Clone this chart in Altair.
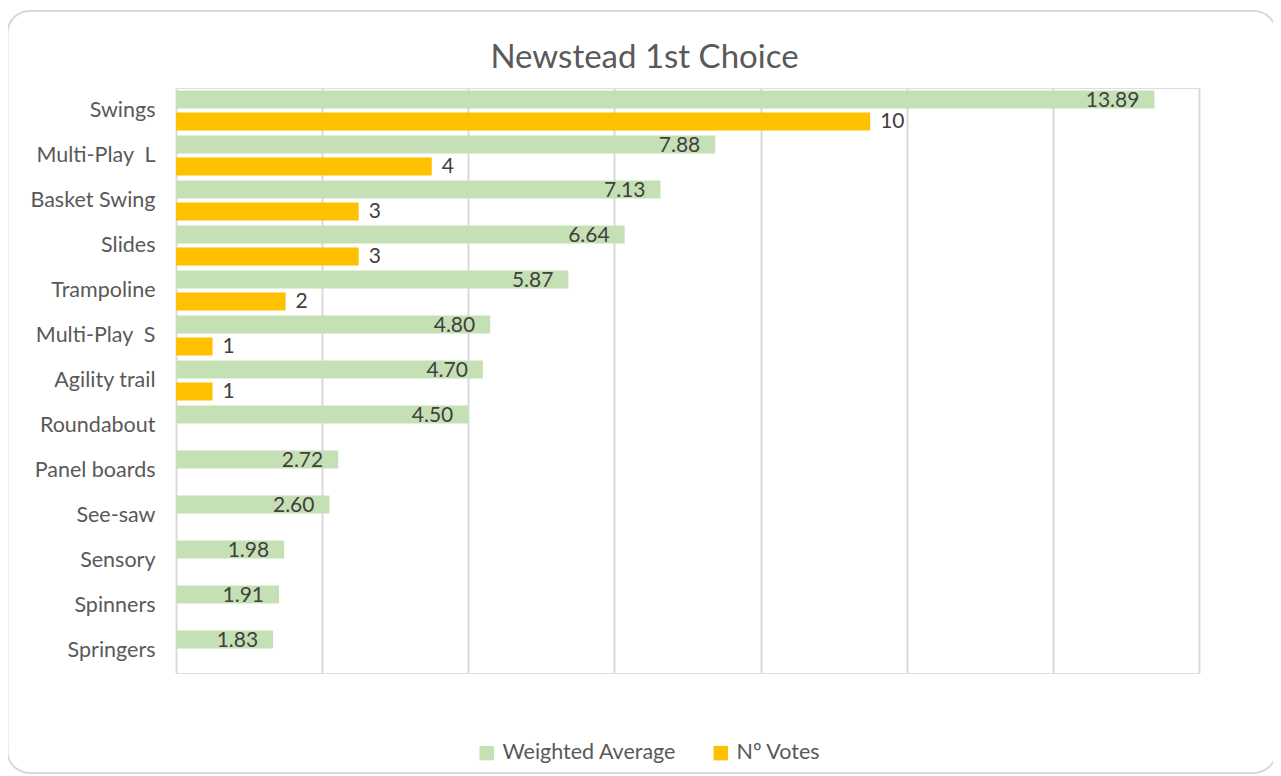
import altair as alt
import pandas as pd

categories = ["Swings", "Multi-Play \u00a0L", "Basket Swing", "Slides", "Trampoline\u00a0",
              "Multi-Play \u00a0S", "Agility trail", "Roundabout", "Panel boards", "See-saw",
              "Sensory", "Spinners", "Springers"]
weighted_avg = [13.89, 7.88, 7.13, 6.64, 5.87, 4.80, 4.70, 4.50, 2.72, 2.60, 1.98, 1.91, 1.83]
votes = [10, 4, 3, 3, 2, 1, 1, None, None, None, None, None, None]
series = ["Weighted Average", "Nº Votes"]
colors = ["#C5E0B4", "#FFC000"]
axis_min, axis_max = 0.5, 14.5
grid_values = [0.5, 2.5, 4.5, 6.5, 8.5, 10.5, 12.5, 14.5]

rows = []
for c, w, v in zip(categories, weighted_avg, votes):
    rows.append({"cat": c, "series": series[0], "value": w, "base": axis_min,
                 "label": f"{w:.2f}"})
    if v is not None:
        rows.append({"cat": c, "series": series[1], "value": v, "base": axis_min,
                     "label": f"{v}"})
df = pd.DataFrame(rows)

FONT = "Lato"

y_enc = alt.Y("cat:N", sort=categories, title=None,
              scale=alt.Scale(paddingInner=0, paddingOuter=0),
              axis=alt.Axis(domain=False, ticks=False, labelFontSize=21.5, labelColor="#595959",
                            labelFont=FONT, labelPadding=21, grid=False, labelLimit=0))
yoff = alt.YOffset("series:N", sort=series,
                   scale=alt.Scale(domain=series, paddingInner=0.182, paddingOuter=0.114))
x_scale = alt.Scale(domain=[axis_min, axis_max], nice=False, zero=False)
x_enc = alt.X("value:Q", scale=x_scale, title=None,
              axis=alt.Axis(values=grid_values, labels=False, ticks=False, domain=False,
                            grid=True, gridColor="#D9D9D9", gridWidth=2))

base = alt.Chart(df)

bars = base.mark_bar().encode(
    y=y_enc, yOffset=yoff, x=x_enc, x2="base:Q",
    color=alt.Color("series:N", sort=series,
                    scale=alt.Scale(domain=series, range=colors),
                    legend=alt.Legend(title=None, orient="none", direction="horizontal",
                                      legendX=300, legendY=654, symbolType="square",
                                      symbolSize=210, symbolStrokeWidth=0,
                                      labelFontSize=21.5, labelColor="#595959", labelFont=FONT,
                                      columnPadding=33, labelOffset=5, labelLimit=0)),
)

text_green = base.transform_filter(alt.datum.series == series[0]).mark_text(
    align="right", baseline="middle", dx=-15, dy=1, fontSize=21, color="#404040", font=FONT
).encode(y=alt.Y("cat:N", sort=categories), yOffset=yoff,
         x=alt.X("value:Q", scale=x_scale), text="label:N")

text_orange = base.transform_filter(alt.datum.series == series[1]).mark_text(
    align="left", baseline="middle", dx=10, dy=1, fontSize=21, color="#404040", font=FONT
).encode(y=alt.Y("cat:N", sort=categories), yOffset=yoff,
         x=alt.X("value:Q", scale=x_scale), text="label:N")

frame = alt.Chart(pd.DataFrame({"a": [0]})).mark_rect(
    fill="transparent", stroke="#D9D9D9", strokeWidth=2, cornerRadius=22
).encode(x=alt.value(-168.5), x2=alt.value(1100), y=alt.value(-77), y2=alt.value(685))

chart = alt.layer(frame, bars, text_green, text_orange).properties(
    width=1023, height=585,
    autosize=alt.AutoSizeParams(type="none"),
    padding={"left": 168, "top": 80, "right": 74, "bottom": 103},
    title=alt.TitleParams("Newstead 1st Choice", fontSize=33, color="#595959", font=FONT,
                          fontWeight="normal", anchor="middle", dx=-43, offset=0, dy=65),
).configure_view(stroke="transparent", strokeWidth=0, fill="white").configure_axis(
    domain=False
).configure(background="white")

chart.save("out.html", embed_options={"renderer": "svg", "actions": False})
